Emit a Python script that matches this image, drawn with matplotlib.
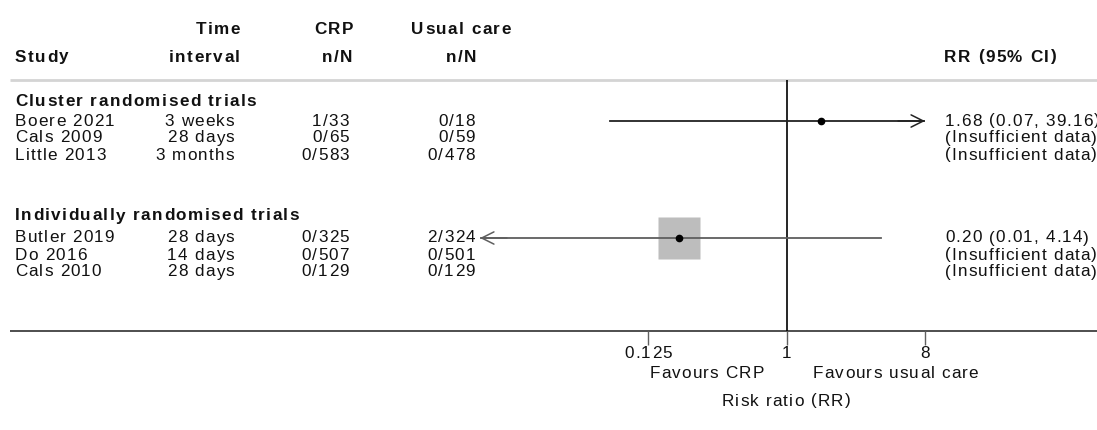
import numpy as np
import matplotlib
matplotlib.use("Agg")
import matplotlib.pyplot as plt
from matplotlib import font_manager
from matplotlib.ft2font import FT2Font

plt.rcParams['font.family'] = ['Liberation Sans', 'DejaVu Sans']

# Forest plot data
groups = ["Cluster randomised trials", "Individually randomised trials"]
studies = ["Boere 2021", "Cals 2009", "Little 2013", "Butler 2019", "Do 2016", "Cals 2010"]
intervals = ["3 weeks", "28 days", "3 months", "28 days", "14 days", "28 days"]
crp = ["1/33", "0/65", "0/583", "0/325", "0/507", "0/129"]
usual = ["0/18", "0/59", "0/478", "2/324", "0/501", "0/129"]
rr = [1.68, np.nan, np.nan, 0.20, np.nan, np.nan]
lo = [0.07, np.nan, np.nan, 0.01, np.nan, np.nan]
hi = [39.16, np.nan, np.nan, 4.14, np.nan, np.nan]
rr_text = ["1.68 (0.07, 39.16)", "(Insufficient data)", "(Insufficient data)",
           "0.20 (0.01, 4.14)", "(Insufficient data)", "(Insufficient data)"]
show_box = [False, False, False, True, False, False]
ticks = [0.125, 1, 8]
tick_labels = ["0.125", "1", "8"]
xmin, xmax = 0.01, 8

W, H = 1097, 430
FS = 12.3
TRACK = {False: 1.15, True: 1.45}

fig = plt.figure(figsize=(W / 100, H / 100), dpi=100)

# overlay axes in pixel coordinates for the table part
ax = fig.add_axes([0, 0, 1, 1])
ax.set_xlim(0, W)
ax.set_ylim(H, 0)
ax.axis('off')

_fonts = {}


def char_advances(s, bold):
    if bold not in _fonts:
        fp = font_manager.FontProperties(family='Liberation Sans',
                                         weight='bold' if bold else 'normal')
        f = FT2Font(font_manager.findfont(fp))
        f.set_size(FS, 100)
        _fonts[bold] = f
    f = _fonts[bold]
    out = []
    for c in s:
        g = f.load_char(ord(c))
        out.append(g.linearHoriAdvance / 65536)
    return out


def tracked(x, y, s, ha='left', bold=False, color='#111111'):
    # text with the loose letter spacing seen in the original
    adv = char_advances(s, bold)
    tr = TRACK[bold]
    total = sum(adv) + tr * (len(s) - 1)
    if ha == 'right':
        x = x - total
    elif ha == 'center':
        x = x - total / 2
    for c, a in zip(s, adv):
        if c != ' ':
            ax.text(x, y + 4.5, c, ha='left', va='baseline', fontsize=FS,
                    fontweight='bold' if bold else 'normal', color=color)
        x += a + tr


top_line, axis_line = 80, 331

# row positions (pixels)
group_y = [102, 216]
row_y = [121, 138, 155, 238, 255, 272]

# headers
tracked(15, 57, "Study", bold=True)
tracked(240, 30, "Time", ha='right', bold=True)
tracked(240, 57, "interval", ha='right', bold=True)
tracked(353, 30, "CRP", ha='right', bold=True)
tracked(352, 57, "n/N", ha='right', bold=True)
tracked(461, 30, "Usual care", ha='center', bold=True)
tracked(461, 57, "n/N", ha='center', bold=True)
tracked(944, 57, "RR (95% CI)", bold=True)

ax.plot([10, W], [top_line, top_line], color='#d4d4d4', lw=2, solid_capstyle='butt')
ax.plot([10, W], [axis_line, axis_line], color='#404040', lw=1.3, solid_capstyle='butt')

for g, y in zip(groups, group_y):
    tracked(15, y, g, bold=True)

for i, y in enumerate(row_y):
    tracked(15, y, studies[i])
    tracked(234, y, intervals[i], ha='right')
    tracked(349, y, crp[i], ha='right')
    tracked(475, y, usual[i], ha='right')
    tracked(945, y, rr_text[i])

# forest panel (log2 x scale)
x0, x1 = 480, 925
fx = fig.add_axes([x0 / W, (H - axis_line) / H, (x1 - x0) / W, (axis_line - top_line) / H])
fx.set_xscale('log', base=2)
fx.set_xlim(xmin, xmax)
fx.set_ylim(axis_line, top_line)
fx.patch.set_alpha(0)
for s in fx.spines.values():
    s.set_visible(False)
fx.set_yticks([])
fx.set_xticks(ticks)
fx.set_xticklabels([])
fx.minorticks_off()
fx.tick_params(axis='x', length=10, width=1, color='#606060')

fx.axvline(1, color='black', lw=1.2)

for i, y in enumerate(row_y):
    if np.isnan(rr[i]):
        continue
    col = '#5e5e5e' if show_box[i] else '#222222'
    if show_box[i]:
        fx.plot(rr[i], y, marker='s', markersize=30.2, color='#bdbdbd', mec='none', zorder=2)
    a, b = max(lo[i], xmin), min(hi[i], xmax)
    fx.plot([a, b], [y, y], color=col, lw=1.3, zorder=3)
    if hi[i] > xmax:
        fx.annotate('', xy=(xmax, y), xytext=(xmax / 1.5, y),
                    arrowprops=dict(arrowstyle='->', lw=1.1, color=col,
                                    mutation_scale=22, shrinkA=0, shrinkB=0), zorder=3)
    if lo[i] <= xmin:
        fx.annotate('', xy=(xmin, y), xytext=(xmin * 1.5, y),
                    arrowprops=dict(arrowstyle='->', lw=1.1, color=col,
                                    mutation_scale=22, shrinkA=0, shrinkB=0), zorder=3)
    fx.plot(rr[i], y, marker='o', markersize=4.5, color='black', zorder=4)

# tick labels placed through the forest axis scale
for t, lab in zip(ticks, tick_labels):
    px = fx.transData.transform((t, axis_line))[0]
    tracked(ax.transData.inverted().transform((px, 0))[0], 354, lab, ha='center')

tracked(764, 374, "Favours CRP", ha='right')
tracked(813, 374, "Favours usual care")
tracked(786, 401, "Risk ratio (RR)", ha='center')

fig.savefig("out.png", dpi=100)
